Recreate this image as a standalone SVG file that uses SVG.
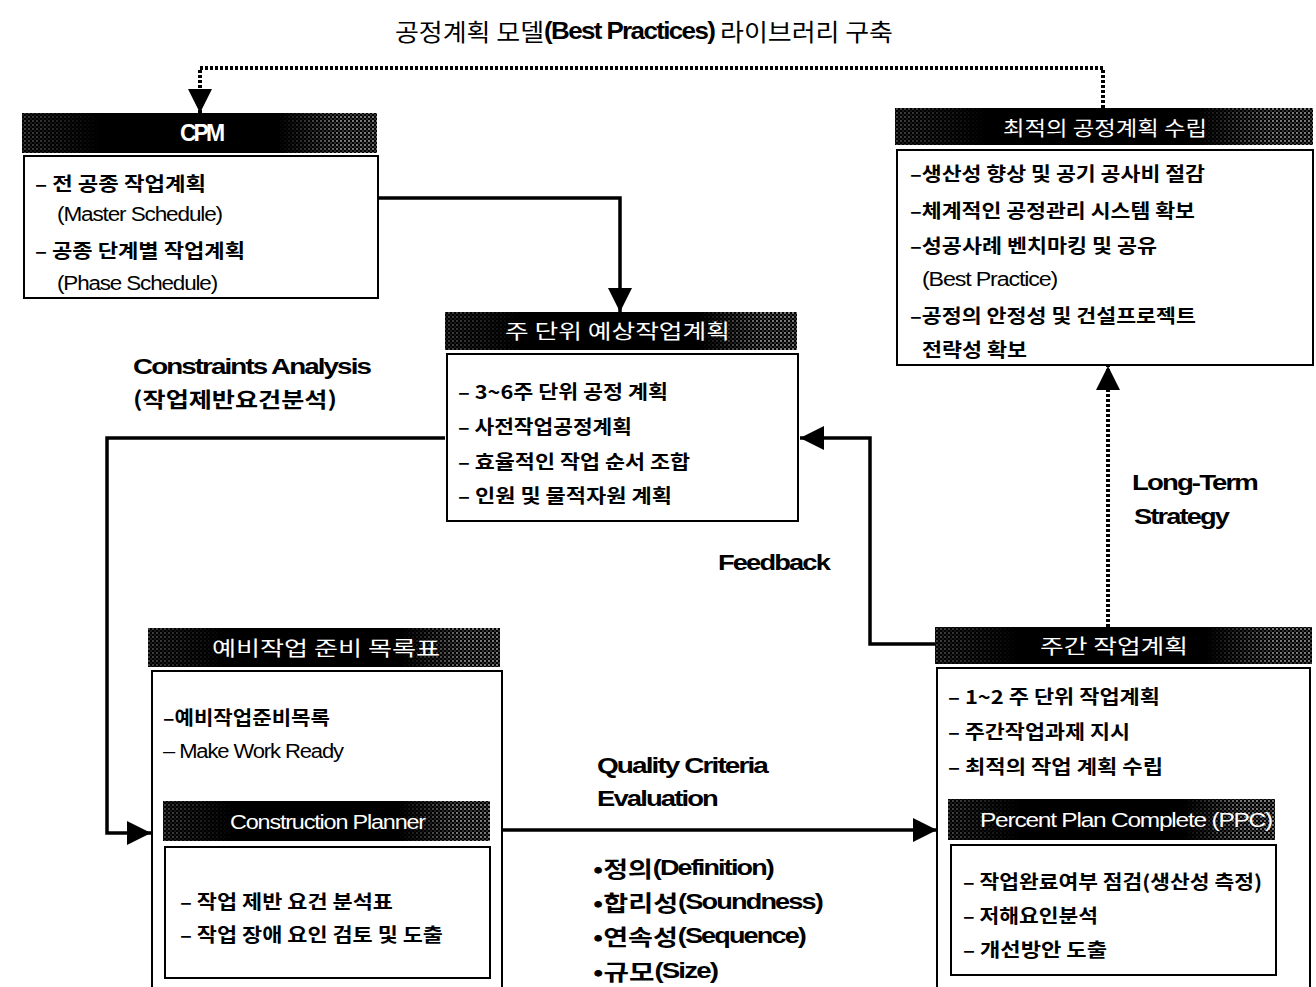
<svg xmlns="http://www.w3.org/2000/svg" width="1316" height="987" viewBox="0 0 1316 987">
  <defs>
    <style>
      .ko { font-family: "Noto Sans CJK KR", "Liberation Sans", sans-serif; font-weight: bold; font-size: 19px; fill: #000; dominant-baseline: central; }
      .lat { font-family: "Liberation Sans", "Noto Sans CJK KR", sans-serif; font-weight: normal; font-size: 20px; fill: #000; dominant-baseline: central; letter-spacing: -1px; }
      .en { font-family: "Liberation Sans", "Noto Sans CJK KR", sans-serif; font-weight: bold; font-size: 22px; fill: #000; dominant-baseline: central; letter-spacing: -1.5px; }
      .hd { font-family: "Noto Sans CJK KR", "Liberation Sans", sans-serif; font-size: 20px; fill: #fff; dominant-baseline: central; }
      .hden { font-family: "Liberation Sans", sans-serif; font-size: 20px; fill: #fff; dominant-baseline: central; letter-spacing: -1px; }
      .hdbar { fill: #000; }
      .stip { fill: url(#dots); mask: url(#endsFade); }
      .box { fill: #fff; stroke: #000; stroke-width: 2; }
      .solid { fill: none; stroke: #000; stroke-width: 3.5; }
      .dotted { fill: none; stroke: #000; stroke-width: 4; stroke-dasharray: 3 2; }
    </style>
    <pattern id="dots" patternUnits="userSpaceOnUse" width="4" height="4">
      <circle cx="1" cy="1" r="0.9" fill="#b0b0b0"/>
      <circle cx="3" cy="3" r="0.7" fill="#8a8a8a"/>
    </pattern>
    <linearGradient id="fadeGrad" x1="0" y1="0" x2="1" y2="0">
      <stop offset="0" stop-color="#fff" stop-opacity="0.55"/>
      <stop offset="0.22" stop-color="#fff" stop-opacity="0"/>
      <stop offset="0.72" stop-color="#fff" stop-opacity="0"/>
      <stop offset="0.9" stop-color="#fff" stop-opacity="1"/>
      <stop offset="1" stop-color="#fff" stop-opacity="1"/>
    </linearGradient>
    <mask id="endsFade" maskContentUnits="objectBoundingBox">
      <rect x="0" y="0" width="1" height="1" fill="url(#fadeGrad)"/>
    </mask>
    <marker id="arrow" markerUnits="userSpaceOnUse" markerWidth="26" markerHeight="24" refX="24" refY="12" orient="auto">
      <path d="M0,0 L24,12 L0,24 Z" fill="#000"/>
    </marker>
  </defs>

  <rect x="0" y="0" width="1316" height="987" fill="#fff"/>

  <!-- title -->
  <text class="ko" x="395" y="30" style="font-size:24px;font-weight:normal" textLength="498" lengthAdjust="spacingAndGlyphs">공정계획 모델<tspan style="font-family:'Liberation Sans',sans-serif;font-weight:bold;letter-spacing:-1.5px">(Best Practices)</tspan> 라이브러리 구축</text>

  <!-- connectors -->
  <g id="connectors">
    <path class="dotted" d="M1103,108 V68 H200 V113" marker-end="url(#arrow)"/>
    <path class="solid" d="M378,198 H620 V312" marker-end="url(#arrow)"/>
    <path class="solid" d="M445,438 H107 V833 H151" marker-end="url(#arrow)"/>
    <path class="solid" d="M935,644 H870 V438 H800" marker-end="url(#arrow)"/>
    <path class="dotted" d="M1108,627 V366" marker-end="url(#arrow)"/>
    <path class="solid" d="M502,830 H937" marker-end="url(#arrow)"/>
  </g>

  <!-- connector labels -->
  <g id="labels">
    <text class="en" x="133" y="366" textLength="237" lengthAdjust="spacingAndGlyphs">Constraints Analysis</text>
    <text class="ko" x="133" y="398" style="font-size:21px" textLength="204" lengthAdjust="spacingAndGlyphs">(작업제반요건분석)</text>
    <text class="en" x="718" y="562" textLength="111" lengthAdjust="spacingAndGlyphs">Feedback</text>
    <text class="en" x="1132" y="482" textLength="125" lengthAdjust="spacingAndGlyphs">Long-Term</text>
    <text class="en" x="1134" y="516" textLength="94" lengthAdjust="spacingAndGlyphs">Strategy</text>
    <text class="en" x="597" y="765" textLength="170" lengthAdjust="spacingAndGlyphs">Quality Criteria</text>
    <text class="en" x="597" y="798" textLength="120" lengthAdjust="spacingAndGlyphs">Evaluation</text>
    <text class="ko" x="593" y="867" style="font-size:22px" textLength="180" lengthAdjust="spacingAndGlyphs">•정의<tspan style="font-family:'Liberation Sans',sans-serif;letter-spacing:-1.5px">(Definition)</tspan></text>
    <text class="ko" x="593" y="901" style="font-size:22px" textLength="229" lengthAdjust="spacingAndGlyphs">•합리성<tspan style="font-family:'Liberation Sans',sans-serif;letter-spacing:-1.5px">(Soundness)</tspan></text>
    <text class="ko" x="593" y="935" style="font-size:22px" textLength="212" lengthAdjust="spacingAndGlyphs">•연속성<tspan style="font-family:'Liberation Sans',sans-serif;letter-spacing:-1.5px">(Sequence)</tspan></text>
    <text class="ko" x="593" y="970" style="font-size:22px" textLength="124" lengthAdjust="spacingAndGlyphs">•규모<tspan style="font-family:'Liberation Sans',sans-serif;letter-spacing:-1.5px">(Size)</tspan></text>
  </g>

  <!-- CPM -->
  <g id="cpm">
    <rect class="hdbar" x="22" y="113" width="355" height="40"/>
    <rect class="stip" x="22" y="113" width="355" height="40"/>
    <text class="hden" x="201" y="133" text-anchor="middle" style="font-weight:bold;font-size:23px;letter-spacing:-3px">CPM</text>
    <rect class="box" x="24" y="156" width="354" height="142"/>
    <text class="ko" x="35" y="182" textLength="171" lengthAdjust="spacingAndGlyphs">– 전 공종 작업계획</text>
    <text class="lat" x="57" y="214" textLength="165" lengthAdjust="spacingAndGlyphs">(Master Schedule)</text>
    <text class="ko" x="35" y="249" textLength="210" lengthAdjust="spacingAndGlyphs">– 공종 단계별 작업계획</text>
    <text class="lat" x="57" y="283" textLength="160" lengthAdjust="spacingAndGlyphs">(Phase Schedule)</text>
  </g>

  <!-- lookahead plan -->
  <g id="lookahead">
    <rect class="hdbar" x="445" y="312" width="352" height="38"/>
    <rect class="stip" x="445" y="312" width="352" height="38"/>
    <text class="hd" x="505" y="330" textLength="225" lengthAdjust="spacingAndGlyphs">주 단위 예상작업계획</text>
    <rect class="box" x="447" y="354" width="351" height="167"/>
    <text class="ko" x="458" y="390" textLength="210" lengthAdjust="spacingAndGlyphs">– 3~6주 단위 공정 계획</text>
    <text class="ko" x="458" y="425" textLength="174" lengthAdjust="spacingAndGlyphs">– 사전작업공정계획</text>
    <text class="ko" x="458" y="460" textLength="232" lengthAdjust="spacingAndGlyphs">– 효율적인 작업 순서 조합</text>
    <text class="ko" x="458" y="494" textLength="214" lengthAdjust="spacingAndGlyphs">– 인원 및 물적자원 계획</text>
  </g>

  <!-- optimal schedule -->
  <g id="optimal">
    <rect class="hdbar" x="895" y="108" width="418" height="37"/>
    <rect class="stip" x="895" y="108" width="418" height="37"/>
    <text class="hd" x="1003" y="127" textLength="204" lengthAdjust="spacingAndGlyphs">최적의 공정계획 수립</text>
    <rect class="box" x="897" y="150" width="416" height="215"/>
    <text class="ko" x="910" y="172" textLength="295" lengthAdjust="spacingAndGlyphs">–생산성 향상 및 공기 공사비 절감</text>
    <text class="ko" x="910" y="209" textLength="285" lengthAdjust="spacingAndGlyphs">–체계적인 공정관리 시스템 확보</text>
    <text class="ko" x="910" y="244" textLength="247" lengthAdjust="spacingAndGlyphs">–성공사례 벤치마킹 및 공유</text>
    <text class="lat" x="922" y="279" textLength="135" lengthAdjust="spacingAndGlyphs">(Best Practice)</text>
    <text class="ko" x="910" y="314" textLength="286" lengthAdjust="spacingAndGlyphs">–공정의 안정성 및 건설프로젝트</text>
    <text class="ko" x="922" y="348" textLength="105" lengthAdjust="spacingAndGlyphs">전략성 확보</text>
  </g>

  <!-- make-ready list -->
  <g id="makeready">
    <rect class="hdbar" x="148" y="628" width="352" height="39"/>
    <rect class="stip" x="148" y="628" width="352" height="39"/>
    <text class="hd" x="212" y="647" textLength="228" lengthAdjust="spacingAndGlyphs">예비작업 준비 목록표</text>
    <path class="box" d="M152,990 V671 H502 V990"/>
    <text class="ko" x="163" y="716" textLength="167" lengthAdjust="spacingAndGlyphs">–예비작업준비목록</text>
    <text class="lat" x="163" y="751" textLength="180" lengthAdjust="spacingAndGlyphs">– Make Work Ready</text>
  </g>

  <!-- construction planner -->
  <g id="planner">
    <rect class="hdbar" x="163" y="801" width="327" height="40"/>
    <rect class="stip" x="163" y="801" width="327" height="40"/>
    <text class="hden" x="230" y="822" textLength="195" lengthAdjust="spacingAndGlyphs">Construction Planner</text>
    <rect class="box" x="165" y="847" width="325" height="131"/>
    <text class="ko" x="180" y="900" textLength="213" lengthAdjust="spacingAndGlyphs">– 작업 제반 요건 분석표</text>
    <text class="ko" x="180" y="933" textLength="263" lengthAdjust="spacingAndGlyphs">– 작업 장애 요인 검토 및 도출</text>
  </g>

  <!-- weekly work plan -->
  <g id="weekly">
    <rect class="hdbar" x="935" y="627" width="377" height="37"/>
    <rect class="stip" x="935" y="627" width="377" height="37"/>
    <text class="hd" x="1040" y="645" textLength="148" lengthAdjust="spacingAndGlyphs">주간 작업계획</text>
    <path class="box" d="M937,990 V668 H1310 V990"/>
    <text class="ko" x="948" y="695" textLength="212" lengthAdjust="spacingAndGlyphs">– 1~2 주 단위 작업계획</text>
    <text class="ko" x="948" y="730" textLength="182" lengthAdjust="spacingAndGlyphs">– 주간작업과제 지시</text>
    <text class="ko" x="948" y="765" textLength="215" lengthAdjust="spacingAndGlyphs">– 최적의 작업 계획 수립</text>
  </g>

  <!-- percent plan complete -->
  <g id="ppc">
    <rect class="hdbar" x="948" y="799" width="327" height="41"/>
    <rect class="stip" x="948" y="799" width="327" height="41"/>
    <text class="hden" x="980" y="820" textLength="292" lengthAdjust="spacingAndGlyphs">Percent Plan Complete (PPC)</text>
    <rect class="box" x="951" y="845" width="325" height="130"/>
    <text class="ko" x="963" y="880" textLength="299" lengthAdjust="spacingAndGlyphs">– 작업완료여부 점검(생산성 측정)</text>
    <text class="ko" x="963" y="914" textLength="135" lengthAdjust="spacingAndGlyphs">– 저해요인분석</text>
    <text class="ko" x="963" y="948" textLength="144" lengthAdjust="spacingAndGlyphs">– 개선방안 도출</text>
  </g>
</svg>
